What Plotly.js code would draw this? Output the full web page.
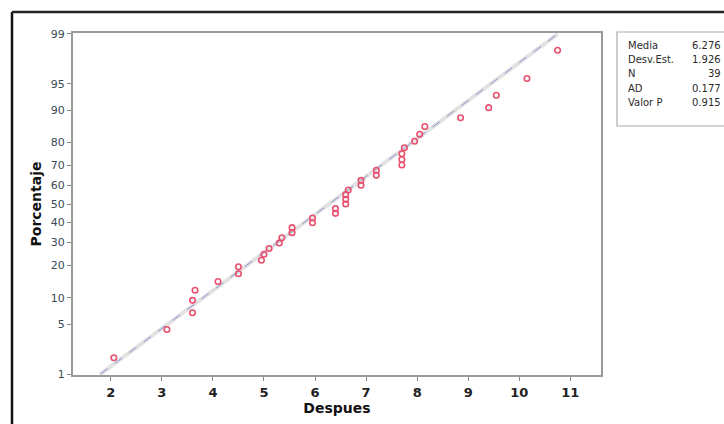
<!DOCTYPE html>
<html>
<head>
<meta charset="utf-8">
<script src="https://cdn.plot.ly/plotly-3.0.1.min.js"></script>
<style>
  html, body { margin: 0; padding: 0; background: #ffffff; }
  #chart { width: 724px; height: 424px; }
</style>
</head>
<body>
<div id="chart"></div>
<script>
// ---- data ----
var despues = [2.06, 3.1, 3.6, 3.6, 3.65, 4.1, 4.5, 4.5, 4.95, 5.0,
               5.1, 5.3, 5.35, 5.55, 5.55, 5.95, 5.95, 6.4, 6.4, 6.6,
               6.6, 6.6, 6.65, 6.9, 6.9, 7.2, 7.2, 7.7, 7.7, 7.7,
               7.75, 7.95, 8.05, 8.15, 8.85, 9.4, 9.55, 10.15, 10.75];
var porcentaje = [1.777, 4.315, 6.853, 9.391, 11.929, 14.467, 17.005, 19.543, 22.081, 24.619,
                  27.157, 29.695, 32.234, 34.772, 37.310, 39.848, 42.386, 44.924, 47.462, 50.000,
                  52.538, 55.076, 57.614, 60.152, 62.690, 65.228, 67.766, 70.305, 72.843, 75.381,
                  77.919, 80.457, 82.995, 85.533, 88.071, 90.609, 93.147, 95.685, 98.223];
var yTickPct = [1, 5, 10, 20, 30, 40, 50, 60, 70, 80, 90, 95, 99];
var xTickVals = [2, 3, 4, 5, 6, 7, 8, 9, 10, 11];
var statLabels = ["Media", "Desv.Est.", "N", "AD", "Valor P"];
var statValues = ["6.276", "1.926", "39", "0.177", "0.915"];
var media = 6.276, desvEst = 1.926;
var fitPct = [1, 99];

// inverse standard normal CDF (Acklam) -> probability scale positions
function invNorm(p) {
  var a = [-3.969683028665376e+01, 2.209460984245205e+02, -2.759285104469687e+02, 1.383577518672690e+02, -3.066479806614716e+01, 2.506628277459239e+00];
  var b = [-5.447609879822406e+01, 1.615858368580409e+02, -1.556989798598866e+02, 6.680131188771972e+01, -1.328068155288572e+01];
  var c = [-7.784894002430293e-03, -3.223964580411365e-01, -2.400758277161838e+00, -2.549732539343734e+00, 4.374664141464968e+00, 2.938163982698783e+00];
  var d = [7.784695709041462e-03, 3.224671290700398e-01, 2.445134137142996e+00, 3.754408661907416e+00];
  var pl = 0.02425, q, r;
  if (p < pl) {
    q = Math.sqrt(-2 * Math.log(p));
    return (((((c[0]*q+c[1])*q+c[2])*q+c[3])*q+c[4])*q+c[5]) / ((((d[0]*q+d[1])*q+d[2])*q+d[3])*q+1);
  } else if (p <= 1 - pl) {
    q = p - 0.5; r = q * q;
    return (((((a[0]*r+a[1])*r+a[2])*r+a[3])*r+a[4])*r+a[5])*q / (((((b[0]*r+b[1])*r+b[2])*r+b[3])*r+b[4])*r+1);
  } else {
    q = Math.sqrt(-2 * Math.log(1 - p));
    return -(((((c[0]*q+c[1])*q+c[2])*q+c[3])*q+c[4])*q+c[5]) / ((((d[0]*q+d[1])*q+d[2])*q+d[3])*q+1);
  }
}

var yPts = porcentaje.map(function (v) { return invNorm(v / 100); });
var fitZ = fitPct.map(function (v) { return invNorm(v / 100); });
var fitX = fitZ.map(function (z) { return media + desvEst * z; });

var traces = [
  { x: fitX, y: fitZ, mode: 'lines', type: 'scatter', hoverinfo: 'skip',
    line: { color: '#e2e2e2', width: 4 }, showlegend: false },
  { x: fitX, y: fitZ, mode: 'lines', type: 'scatter', hoverinfo: 'skip',
    line: { color: '#8a93cc', width: 1, dash: 'dash' }, showlegend: false },
  { x: despues, y: yPts, mode: 'markers', type: 'scatter', showlegend: false,
    marker: { symbol: 'circle-open', size: 5.5, color: '#e8506e', line: { width: 1.6, color: '#e8506e' } } }
];

var pl = 73, pr = 601, pt = 33, pb = 375;
function px2paperX(px) { return (px - pl) / (pr - pl); }
function px2paperY(py) { return (pb - py) / (pb - pt); }

var annotations = [];
var rowY = [45, 59.5, 73.5, 88, 102.5];
for (var i = 0; i < statLabels.length; i++) {
  annotations.push({ xref: 'paper', yref: 'paper', x: px2paperX(626), y: px2paperY(rowY[i]),
    xanchor: 'left', yanchor: 'middle', showarrow: false, text: statLabels[i],
    font: { family: 'DejaVu Sans, sans-serif', size: 10, color: '#2b2b2b' } });
  annotations.push({ xref: 'paper', yref: 'paper', x: px2paperX(723), y: px2paperY(rowY[i]),
    xanchor: 'right', yanchor: 'middle', showarrow: false, text: statValues[i],
    font: { family: 'DejaVu Sans, sans-serif', size: 10, color: '#2b2b2b' } });
}

var shapes = [
  // outer black frame (left and top)
  { type: 'line', xref: 'paper', yref: 'paper', x0: px2paperX(12), x1: px2paperX(12), y0: px2paperY(12), y1: px2paperY(430),
    line: { color: '#111', width: 2.5 } },
  { type: 'line', xref: 'paper', yref: 'paper', x0: px2paperX(12), x1: px2paperX(730), y0: px2paperY(12), y1: px2paperY(12),
    line: { color: '#222', width: 2.5 } },
  // stats box
  { type: 'rect', xref: 'paper', yref: 'paper', x0: px2paperX(617), x1: px2paperX(740), y0: px2paperY(126), y1: px2paperY(32),
    line: { color: '#aaaaaa', width: 1.2 }, fillcolor: 'rgba(255,255,255,0)' }
];

var layout = {
  width: 724, height: 424,
  margin: { l: pl, r: 724 - pr, t: pt, b: 424 - pb, pad: 0 },
  paper_bgcolor: '#ffffff', plot_bgcolor: '#ffffff',
  showlegend: false,
  xaxis: {
    range: [1.26, 11.6], tickvals: xTickVals, ticktext: xTickVals.map(String),
    showgrid: false, zeroline: false, showline: true, mirror: true,
    linecolor: '#9a9a9a', linewidth: 2, ticks: 'outside', ticklen: 4, tickcolor: '#888',
    tickfont: { family: 'DejaVu Sans, sans-serif', size: 13, color: '#222', weight: 'bold' },
    title: { text: '<b>Despues</b>', standoff: 5, font: { family: 'DejaVu Sans, sans-serif', size: 14, color: '#111' } }
  },
  yaxis: {
    range: [invNorm(0.0097), invNorm(0.9903)],
    tickvals: yTickPct.map(function (v) { return invNorm(v / 100); }),
    ticktext: yTickPct.map(String),
    showgrid: false, zeroline: false, showline: true, mirror: true,
    linecolor: '#9a9a9a', linewidth: 2, ticks: 'outside', ticklen: 4, tickcolor: '#888',
    tickfont: { family: 'DejaVu Sans, sans-serif', size: 11, color: '#3b4a52' },
    title: { text: '<b>Porcentaje</b>', standoff: 6, font: { family: 'DejaVu Sans, sans-serif', size: 14, color: '#111' } }
  },
  annotations: annotations,
  shapes: shapes
};

Plotly.newPlot('chart', traces, layout, { displayModeBar: false, staticPlot: true });
</script>
</body>
</html>
